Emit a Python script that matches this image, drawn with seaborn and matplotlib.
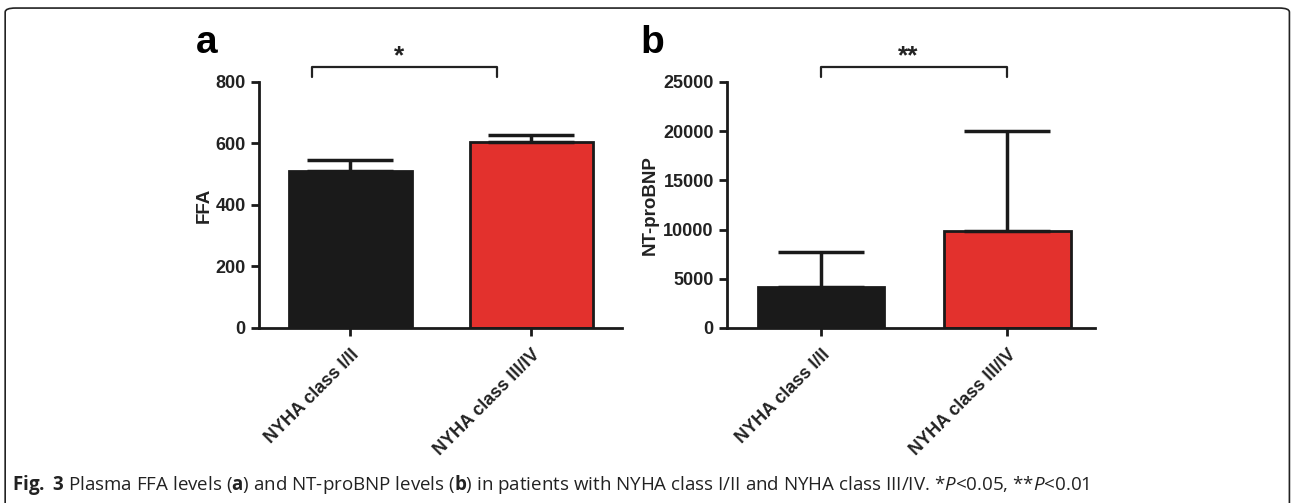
import matplotlib
matplotlib.use("Agg")
import matplotlib.pyplot as plt
import seaborn as sns
import pandas as pd
from matplotlib.patches import FancyBboxPatch

# Données
groupes = ["NYHA class I/II", "NYHA class III/IV"]
couleurs = ["#1a1a1a", "#e3312d"]
ffa_moy = [510, 605]
ffa_err = [35, 23]
bnp_moy = [4200, 9900]
bnp_err = [3500, 10100]
ffa_ticks = [0, 200, 400, 600, 800]
bnp_ticks = [0, 5000, 10000, 15000, 20000, 25000]

sns.set_style("ticks")
plt.rcParams['font.family'] = ['Liberation Sans', 'DejaVu Sans']
plt.rcParams['mathtext.fontset'] = 'custom'
plt.rcParams['mathtext.rm'] = 'Open Sans'
plt.rcParams['mathtext.it'] = 'Open Sans:italic'
plt.rcParams['mathtext.bf'] = 'Open Sans:bold'

fig = plt.figure(figsize=(12.92, 5.03), dpi=100)
ax_a = fig.add_axes([0.2005, 0.348, 0.281, 0.489])
ax_b = fig.add_axes([0.5627, 0.348, 0.2848, 0.489])


def panneau(ax, moy, err, ticks, ylab, lettre, etoiles, xlim, crochet, xl, pad_y):
    df = pd.DataFrame({"groupe": groupes, "valeur": moy})
    sns.barplot(data=df, x="groupe", y="valeur", hue="groupe", palette=couleurs,
                saturation=1, width=0.68, edgecolor="#1a1a1a", linewidth=2,
                legend=False, ax=ax)
    ax.errorbar(range(len(groupes)), moy, yerr=[[0] * len(err), err], fmt="none",
                ecolor="#1a1a1a", elinewidth=2.5, capsize=31, capthick=2.5, zorder=1)
    ax.set_ylim(ticks[0], ticks[-1])
    ax.set_xlim(*xlim)
    ax.set_yticks(ticks)
    ax.set_yticklabels([str(t) for t in ticks], fontsize=13, fontweight="bold", color="#222")
    ax.set_xticks(range(len(groupes)))
    ax.set_xticklabels(groupes, rotation=45, ha="right", rotation_mode="anchor",
                       fontsize=13, fontweight="bold", color="#222")
    ax.set_xlabel("")
    ax.set_ylabel(ylab, fontsize=13.5, fontweight="bold", labelpad=pad_y, color="#222")
    sns.despine(ax=ax)
    for s in ["left", "bottom"]:
        ax.spines[s].set_linewidth(2)
        ax.spines[s].set_color("#1a1a1a")
    ax.tick_params(width=2, length=6, color="#1a1a1a")
    ax.tick_params(axis="x", pad=7)
    # crochet de significativité
    top = ticks[-1]
    g, d = crochet
    ax.plot([g, g, d, d], [top * 1.02, top * 1.061, top * 1.061, top * 1.02],
            color="#222", lw=1.6, clip_on=False)
    ax.text((g + d) / 2 - 0.03, top * 1.055, etoiles, ha="center", va="bottom", fontsize=19,
            fontweight="bold", color="#222")
    ax.text(xl, 1.118, lettre, transform=ax.transAxes, fontsize=28,
            fontweight="bold", ha="left", va="baseline", color="black")


panneau(ax_a, ffa_moy, ffa_err, ffa_ticks, "FFA", "a", "*", (-0.503, 1.503),
        (-0.21, 0.81), -0.174, 2)
panneau(ax_b, bnp_moy, bnp_err, bnp_ticks, "NT-proBNP", "b", "**", (-0.505, 1.47),
        (0.0, 1.0), -0.234, 3)

# légende de la figure
fig.text(0.0093, 0.026,
         r"$\bf{Fig.\ 3}$ Plasma FFA levels ($\bf{a}$) and NT-proBNP levels ($\bf{b}$) in patients "
         r"with NYHA class I/II and NYHA class III/IV. *$\it{P}$<0.05, **$\it{P}$<0.01",
         fontsize=13.5, family=['Open Sans', 'DejaVu Sans'], color="#222", va="baseline")

cadre = FancyBboxPatch((0.004, -0.05), 0.994, 1.034, boxstyle="round,pad=0,rounding_size=0.008",
                       transform=fig.transFigure, fill=False, edgecolor="#222", lw=1.2)
fig.patches.append(cadre)

fig.savefig("out.png", dpi=100)
